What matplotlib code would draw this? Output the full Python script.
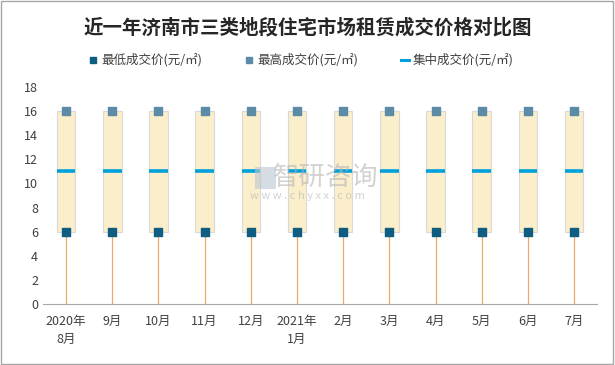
import numpy as np
import matplotlib
matplotlib.use("Agg")
import matplotlib.pyplot as plt
from matplotlib.patches import Rectangle
from matplotlib.lines import Line2D

plt.rcParams["font.family"] = ["Noto Sans CJK SC", "DejaVu Sans"]

# data
months = ["2020年\n8月", "9月", "10月", "11月", "12月", "2021年\n1月",
          "2月", "3月", "4月", "5月", "6月", "7月"]
low_price = [6, 6, 6, 6, 6, 6, 6, 6, 6, 6, 6, 6]
high_price = [16, 16, 16, 16, 16, 16, 16, 16, 16, 16, 16, 16]
mid_price = [11, 11, 11, 11, 11, 11, 11, 11, 11, 11, 11, 11]

x = np.arange(len(months))
low = np.array(low_price)
high = np.array(high_price)
mid = np.array(mid_price)

fig = plt.figure(figsize=(6.15, 3.65), dpi=100)
ax = fig.add_axes([0.070, 0.167, 0.901, 0.595])

# boxes between low and high
ax.bar(x, high - low, bottom=low, width=0.4, color="#FBEECB",
       edgecolor="#D9D9D9", linewidth=0.8, zorder=2)
# drop lines to the axis
ax.vlines(x, 0, low, color="#F0A868", linewidth=0.9, zorder=1)
# middle price bars
ax.hlines(mid, x - 0.2, x + 0.2, color="#00A0DC", linewidth=2.6, zorder=3)
# low / high markers
ax.scatter(x, low, marker="s", s=26, color="#0F5E82", zorder=4)
ax.scatter(x, high, marker="s", s=26, color="#5B8BA6", zorder=4)

ax.set_xlim(-0.5, len(months) - 0.5)
ax.set_ylim(0, 18)
ax.set_yticks(range(0, 19, 2))
ax.set_xticks(x)
ax.set_xticklabels(months, fontsize=9, color="#404040", linespacing=1.5)
ax.tick_params(axis="y", labelsize=9, colors="#404040", length=0)
ax.tick_params(axis="x", length=0, pad=8)
for s in ["left", "right", "top"]:
    ax.spines[s].set_visible(False)
ax.spines["bottom"].set_color("#A6A6A6")

# watermark
ax.text(5.62, 10.5, "智研咨询", fontsize=19, color="#B4B4B4", ha="center",
        va="center", zorder=5, alpha=0.6)
ax.text(5.23, 8.95, "w w w . c h y x x . c o m", fontsize=8, color="#B4B4B4",
        ha="center", va="center", zorder=5, alpha=0.6)
ax.add_patch(Rectangle((4.1, 9.5), 0.45, 1.9, facecolor="#B9C6CF",
                       edgecolor="none", alpha=0.6, zorder=5))

fig.text(0.5, 0.925, "近一年济南市三类地段住宅市场租赁成交价格对比图",
         fontsize=14, fontweight="bold", ha="center", va="center", color="#262626")

handles = [
    Line2D([], [], marker="s", linestyle="none", color="#0F5E82", markersize=5),
    Line2D([], [], marker="s", linestyle="none", color="#5B8BA6", markersize=5),
    Line2D([], [], color="#00A0DC", linewidth=2.2),
]
labels = ["最低成交价(元/㎡)", "最高成交价(元/㎡)", "集中成交价(元/㎡)"]
fig.legend(handles, labels, loc="center", bbox_to_anchor=(0.49, 0.835), ncol=3,
           frameon=False, fontsize=9, handlelength=0.7, handletextpad=0.3,
           columnspacing=3.4, labelcolor="#404040")

fig.add_artist(Rectangle((0.002, 0.003), 0.995, 0.994, transform=fig.transFigure,
                         fill=False, edgecolor="#A6A6A6", linewidth=1))

fig.savefig("out.png", dpi=100)
